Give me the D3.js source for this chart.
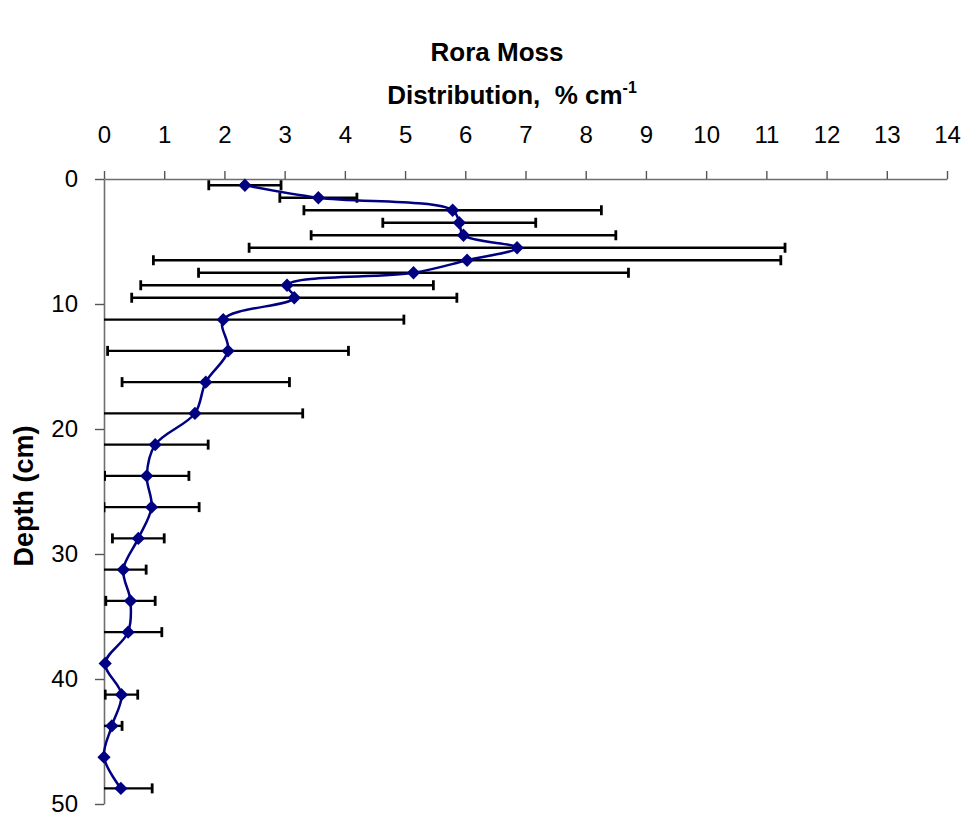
<!DOCTYPE html>
<html>
<head>
<meta charset="utf-8">
<script src="https://cdn.jsdelivr.net/npm/d3@7"></script>
<style>
  body { margin: 0; background: #fff; }
  text { font-family: "Liberation Sans", Arial, sans-serif; }
</style>
</head>
<body>
<div id="chart"></div>
<script>
// depth of each slice (cm) and its distribution (% per cm), with +/- error
const depths = [0.5, 1.5, 2.5, 3.5, 4.5, 5.5, 6.5, 7.5, 8.5, 9.5,
  11.25, 13.75, 16.25, 18.75, 21.25, 23.75, 26.25, 28.75, 31.25, 33.75,
  36.25, 38.75, 41.25, 43.75, 46.25, 48.75];
const distribution = [2.34, 3.56, 5.79, 5.90, 5.97, 6.86, 6.03, 5.14, 3.04, 3.16,
  1.98, 2.06, 1.69, 1.51, 0.85, 0.71, 0.79, 0.57, 0.32, 0.44,
  0.40, 0.02, 0.29, 0.13, 0.00, 0.28];
const errors = [0.60, 0.64, 2.47, 1.27, 2.53, 4.45, 5.21, 3.57, 2.43, 2.70,
  3.00, 2.00, 1.39, 1.79, 0.88, 0.70, 0.79, 0.43, 0.38, 0.41,
  0.56, 0, 0.27, 0.17, 0, 0.52];
const xTicks = [0, 1, 2, 3, 4, 5, 6, 7, 8, 9, 10, 11, 12, 13, 14];
const yTicks = [0, 10, 20, 30, 40, 50];

function renderDepthProfile(containerId) {
  const width = 963;
  const height = 817;
  const plot = { left: 104, right: 947, top: 179, bottom: 804 };

  const data = depths.map((d, i) => ({ depth: d, value: distribution[i], err: errors[i] }));

  const svg = d3.select('#' + containerId)
    .append('svg')
    .attr('width', width)
    .attr('height', height);

  const x = d3.scaleLinear().domain([0, 14]).range([plot.left, plot.right]);
  const y = d3.scaleLinear().domain([0, 50]).range([plot.top, plot.bottom]);

  // Titles
  svg.append('text')
    .attr('x', 497).attr('y', 61)
    .attr('text-anchor', 'middle')
    .style('font-size', '26px').style('font-weight', 'bold')
    .text('Rora Moss');

  const sub = svg.append('text')
    .attr('x', 512).attr('y', 104)
    .attr('text-anchor', 'middle')
    .style('white-space', 'pre')
    .style('font-size', '26px').style('font-weight', 'bold');
  sub.append('tspan').text('Distribution,  % cm');
  sub.append('tspan').attr('dy', -11).style('font-size', '16px').text('-1');

  svg.append('text')
    .attr('transform', 'translate(33, 496) rotate(-90)')
    .attr('text-anchor', 'middle')
    .style('font-size', '27px').style('font-weight', 'bold')
    .text('Depth (cm)');

  // Axes
  const xAxis = svg.append('g')
    .attr('transform', `translate(0, ${plot.top})`)
    .call(d3.axisTop(x).tickValues(xTicks).tickSize(8).tickPadding(28).tickSizeOuter(0));
  const yAxis = svg.append('g')
    .attr('transform', `translate(${plot.left}, 0)`)
    .call(d3.axisLeft(y).tickValues(yTicks).tickSize(9).tickPadding(17).tickSizeOuter(0));

  [xAxis, yAxis].forEach(a => {
    a.select('.domain').attr('stroke', '#6e6e6e').attr('stroke-width', 1.6);
    a.selectAll('.tick line').attr('stroke', '#555').attr('stroke-width', 1.4);
    a.selectAll('.tick text')
      .attr('fill', '#000')
      .style('font-size', '24px')
      .style('font-family', '"Liberation Sans", Arial, sans-serif');
  });

  // clip error bars at the axis
  svg.append('clipPath').attr('id', 'plot-clip')
    .append('rect')
    .attr('x', plot.left).attr('y', plot.top - 10)
    .attr('width', plot.right - plot.left + 10)
    .attr('height', plot.bottom - plot.top + 20);

  const bars = svg.append('g')
    .attr('clip-path', 'url(#plot-clip)')
    .selectAll('.err')
    .data(data.filter(d => d.err > 0))
    .enter().append('g')
    .attr('class', 'err')
    .attr('stroke', '#000')
    .attr('stroke-width', 2.4);

  bars.append('line')
    .attr('x1', d => x(d.value - d.err))
    .attr('x2', d => x(d.value + d.err))
    .attr('y1', d => y(d.depth))
    .attr('y2', d => y(d.depth));

  [-1, 1].forEach(s => {
    bars.append('line')
      .attr('x1', d => x(d.value + s * d.err))
      .attr('x2', d => x(d.value + s * d.err))
      .attr('y1', d => y(d.depth) - 5)
      .attr('y2', d => y(d.depth) + 5)
      .attr('stroke-width', 2.8);
  });

  // smoothed line
  const line = d3.line()
    .x(d => x(d.value))
    .y(d => y(d.depth))
    .curve(d3.curveCatmullRom.alpha(0.5));

  svg.append('path')
    .datum(data)
    .attr('fill', 'none')
    .attr('stroke', '#000080')
    .attr('stroke-width', 2.5)
    .attr('d', line);

  // diamond markers
  svg.selectAll('.marker')
    .data(data)
    .enter().append('path')
    .attr('class', 'marker')
    .attr('d', d3.symbol().type(d3.symbolSquare).size(88))
    .attr('transform', d => `translate(${x(d.value)}, ${y(d.depth)}) rotate(45)`)
    .attr('fill', '#000080');
}

renderDepthProfile('chart');
</script>
</body>
</html>
